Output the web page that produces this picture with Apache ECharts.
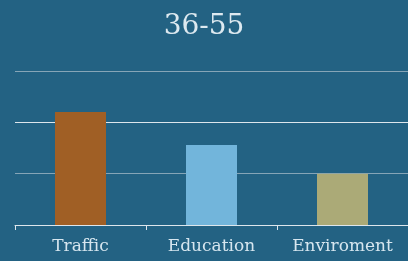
<!DOCTYPE html>
<html>
<head>
<meta charset="utf-8">
<script src="https://cdn.jsdelivr.net/npm/echarts@6/dist/echarts.min.js"></script>
<style>
  html, body { margin: 0; padding: 0; background: #236283; }
  #chart { width: 408px; height: 261px; }
</style>
</head>
<body>
<div id="chart"></div>
<script>
var categories = ['Traffic', 'Education', 'Enviroment'];
var values = [22, 15.6, 10];
var barColors = ['#a05f25', '#72b5db', '#abaa77'];

var myChart = echarts.init(document.getElementById('chart'), null, { renderer: 'canvas' });

var option = {
  backgroundColor: '#236283',
  title: {
    text: '36-55',
    left: 'center',
    top: 8,
    textStyle: {
      color: '#dde9f0',
      fontFamily: 'DejaVu Serif',
      fontWeight: 'normal',
      fontSize: 28
    }
  },
  grid: { left: 15, width: 396, top: 71, bottom: 36 },
  xAxis: {
    type: 'category',
    data: categories,
    axisLine: { lineStyle: { color: '#dde6ec', width: 1 } },
    axisTick: { show: true, length: 5, lineStyle: { color: '#dde6ec' } },
    axisLabel: {
      color: '#d6e6ef',
      fontFamily: 'DejaVu Serif',
      fontSize: 17,
      margin: 13
    }
  },
  yAxis: {
    type: 'value',
    min: 0,
    max: 30,
    interval: 10,
    axisLabel: { show: false },
    axisLine: { show: false },
    axisTick: { show: false },
    splitLine: { lineStyle: { color: ['#dde6ec', '#86a5b7'], width: 1 } }
  },
  series: [
    {
      type: 'bar',
      barWidth: 51,
      data: values.map(function (v, i) {
        return { value: v, itemStyle: { color: barColors[i] } };
      })
    }
  ]
};

myChart.setOption(option);
window.addEventListener('resize', myChart.resize);
</script>
</body>
</html>
